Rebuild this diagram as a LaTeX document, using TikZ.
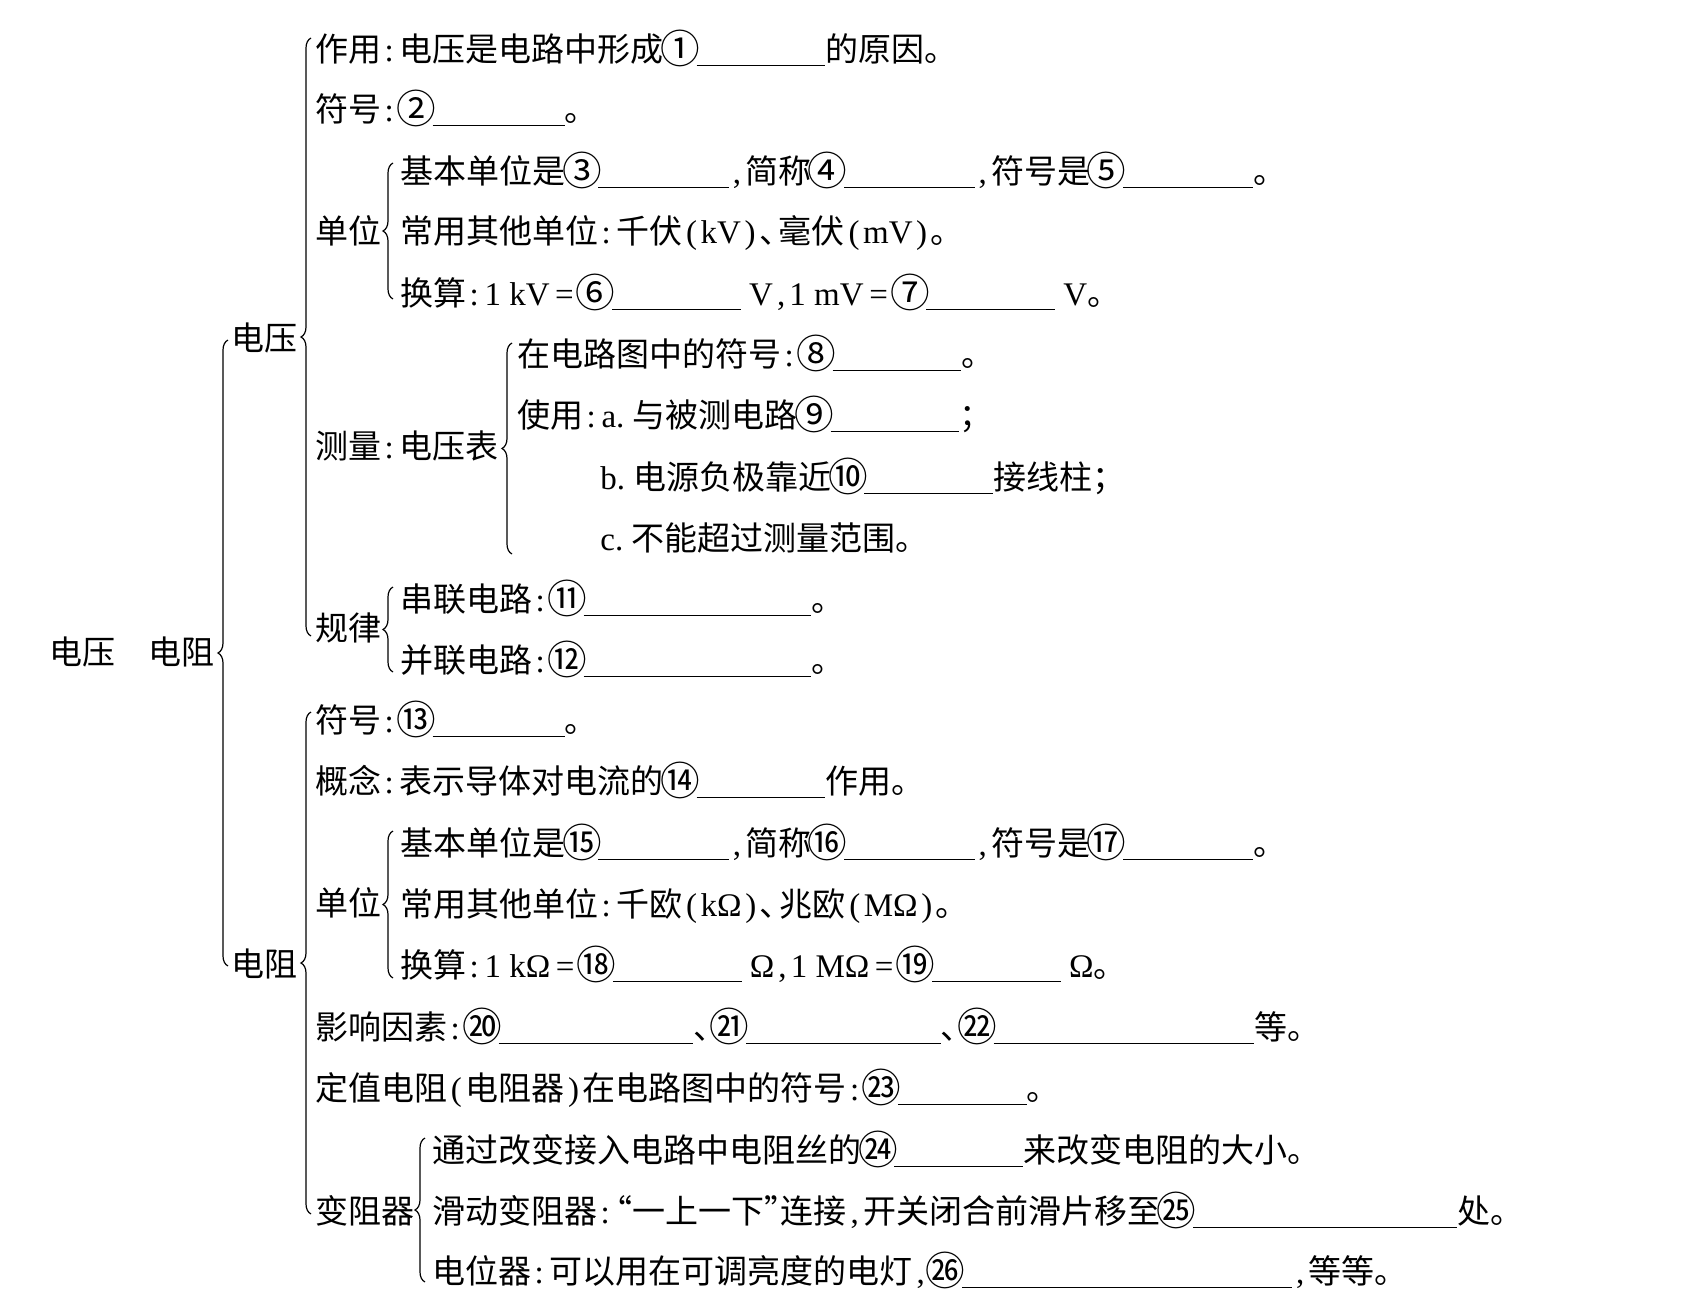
\documentclass[tikz,border=0pt]{standalone}
\usepackage{fontspec}
\setmainfont{Noto Sans CJK SC}
\newfontfamily\lat{Liberation Serif}
\usetikzlibrary{decorations.pathreplacing}
\newcommand{\blk}[1]{\rule[-0.14em]{#1em}{0.6pt}}
\newcommand{\colo}{\makebox[0.55em][l]{\kern0.1em\lat :}}
\newcommand{\dou}{\makebox[0.5em][c]{\lat ,}}
\newcommand{\dun}{\makebox[0.6em][l]{、}}
\newcommand{\lpar}{\makebox[0.55em][c]{\lat (}}
\newcommand{\rpar}{\makebox[0.55em][c]{\lat )}}
\newcommand{\lquo}{\makebox[0.5em][r]{“}}
\newcommand{\rquo}{\makebox[0.5em][l]{”}}
\newcommand{\cir}[1]{\makebox[1em][c]{\raisebox{-0.07em}{\scalebox{1.2}{#1}}}}

\begin{document}
\begin{tikzpicture}[x=0.5pt, y=0.5pt,
  txt/.style={anchor=west, inner sep=0pt, text height=14.5pt, text depth=2pt,
    font=\fontsize{16.5}{20}\selectfont},
  brc/.style={decorate, decoration={brace, amplitude=5pt}, line width=0.6pt},
]
\useasboundingbox (0,0) rectangle (1704,-1312);

% Root
\node[txt] (root) at (49,-652) {电压\quad 电阻};
\node[txt] (volt) at (231,-338) {电压};
\node[txt] (res)  at (231,-964) {电阻};

% Voltage
\node[txt] (vrole) at (315,-49)  {作用\colo 电压是电路中形成\cir{①}\blk{3.9}的原因。};
\node[txt] (vsym)  at (315,-109) {符号\colo\cir{②}\blk{4}。};
\node[txt] (vunit) at (315,-231) {单位};
\node[txt] (vu1) at (400,-171) {基本单位是\cir{③}\blk{3.95}\dou 简称\cir{④}\blk{3.95}\dou 符号是\cir{⑤}\blk{3.95}。};
\node[txt] (vu2) at (400,-231) {常用其他单位\colo 千伏\lpar{\lat kV}\rpar\dun 毫伏\lpar{\lat mV}\rpar 。};
\node[txt] (vu3) at (400,-293) {换算\colo{\lat 1 kV\,=\,}\cir{⑥}\blk{3.9}{\lat\ V}\dou{\lat 1 mV\,=\,}\cir{⑦}\blk{3.9}{\lat\ V}。};
\node[txt] (vmeas) at (315,-446) {测量\colo 电压表};
\node[txt] (vm1) at (517,-354) {在电路图中的符号\colo\cir{⑧}\blk{3.9}。};
\node[txt] (vm2) at (517,-415) {使用\colo{\lat a.\ }与被测电路\cir{⑨}\blk{3.9}；};
\node[txt] (vm3) at (600,-477) {{\lat b.\ }电源负极靠近\cir{⑩}\blk{3.9}接线柱；};
\node[txt] (vm4) at (600,-538) {{\lat c.\ }不能超过测量范围。};
\node[txt] (vlaw) at (315,-628) {规律};
\node[txt] (vl1) at (400,-599) {串联电路\colo\cir{⑪}\blk{6.9}。};
\node[txt] (vl2) at (400,-660) {并联电路\colo\cir{⑫}\blk{6.9}。};

% Resistance
\node[txt] (rsym)  at (315,-720) {符号\colo\cir{⑬}\blk{4}。};
\node[txt] (rdef)  at (315,-781) {概念\colo 表示导体对电流的\cir{⑭}\blk{3.9}作用。};
\node[txt] (runit) at (315,-903) {单位};
\node[txt] (ru1) at (400,-843) {基本单位是\cir{⑮}\blk{3.95}\dou 简称\cir{⑯}\blk{3.95}\dou 符号是\cir{⑰}\blk{3.95}。};
\node[txt] (ru2) at (400,-904) {常用其他单位\colo 千欧\lpar{\lat kΩ}\rpar\dun 兆欧\lpar{\lat MΩ}\rpar 。};
\node[txt] (ru3) at (400,-965) {换算\colo{\lat 1 kΩ\,=\,}\cir{⑱}\blk{3.9}{\lat\ Ω}\dou{\lat 1 MΩ\,=\,}\cir{⑲}\blk{3.9}{\lat\ Ω}。};
\node[txt] (rfac) at (315,-1027) {影响因素\colo\cir{⑳}\blk{5.9}\dun\cir{㉑}\blk{5.9}\dun\cir{㉒}\blk{7.9}等。};
\node[txt] (rfix) at (315,-1088) {定值电阻\lpar 电阻器\rpar 在电路图中的符号\colo\cir{㉓}\blk{3.9}。};
\node[txt] (rrheo) at (315,-1211) {变阻器};
\node[txt] (rh1) at (432,-1150) {通过改变接入电路中电阻丝的\cir{㉔}\blk{3.9}来改变电阻的大小。};
\node[txt] (rh2) at (432,-1211) {滑动变阻器\colo\lquo 一上一下\rquo 连接\dou 开关闭合前滑片移至\cir{㉕}\blk{8}处。};
\node[txt] (rh3) at (432,-1271) {电位器\colo 可以用在可调亮度的电灯\dou\cir{㉖}\blk{10}\dou 等等。};

% Braces
\draw[brc] (228,-966) -- (228,-340);
\draw[brc] (311,-636) -- (311,-38);
\draw[brc] (393,-299) -- (393,-163);
\draw[brc] (512,-554) -- (512,-343);
\draw[brc] (393,-672) -- (393,-587);
\draw[brc] (311,-1214) -- (311,-712);
\draw[brc] (393,-978) -- (393,-831);
\draw[brc] (425,-1282) -- (425,-1138);

\end{tikzpicture}
\end{document}
